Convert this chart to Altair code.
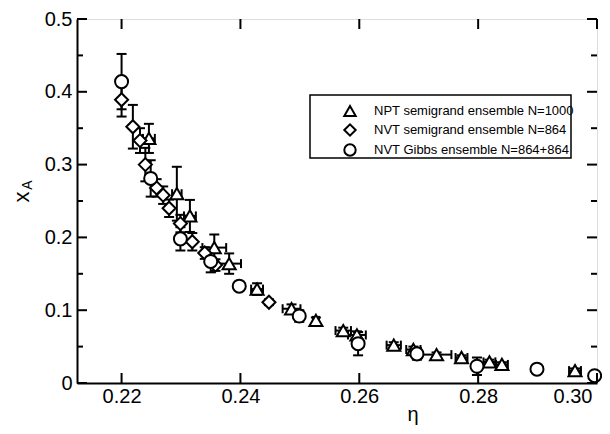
import altair as alt
import pandas as pd

labels = ["NPT semigrand ensemble N=1000", "NVT semigrand ensemble N=864", "NVT Gibbs ensemble N=864+864"]
shapes = ["triangle-up", "diamond", "circle"]

# NPT semigrand ensemble (triangles): eta, x_A, error in x_A, error in eta
npt_eta = [0.2246, 0.2293, 0.2315, 0.2356, 0.2381, 0.2428, 0.2486, 0.2527, 0.2573, 0.2596,
           0.2658, 0.2691, 0.2730, 0.2772, 0.2819, 0.2840, 0.2963]
npt_x = [0.336, 0.260, 0.2295, 0.186, 0.164, 0.129, 0.102, 0.086, 0.072, 0.066,
         0.052, 0.046, 0.039, 0.035, 0.029, 0.0255, 0.017]
npt_err = [0.020, 0.037, 0.022, 0.018, 0.014, 0.008, 0.006, 0.004, 0.004, 0.005,
           0.004, 0.004, 0.003, 0.003, 0.003, 0.003, 0.003]
npt_eta_err = [0.001, 0.0008, 0.001, 0.002, 0.002, 0.001, 0.0015, 0.0005, 0.0013, 0.0015,
               0.0012, 0.0012, 0.0025, 0.001, 0.001, 0.001, 0.001]

# NVT semigrand ensemble (diamonds)
nvt_eta = [0.2200, 0.2219, 0.2231, 0.2240, 0.2259, 0.2270, 0.2280, 0.2299, 0.2319, 0.2340, 0.2358, 0.2448]
nvt_x = [0.389, 0.352, 0.333, 0.300, 0.268, 0.258, 0.240, 0.219, 0.194, 0.1785, 0.162, 0.111]
nvt_err = [0.023, 0.030, 0.017, 0.023, 0.012, 0.012, 0.012, 0.012, 0.012, 0.008, 0.008, 0.004]

# NVT Gibbs ensemble (circles)
gibbs_eta = [0.2200, 0.2249, 0.2299, 0.2350, 0.2398, 0.2499, 0.2598, 0.2697, 0.2798, 0.2899, 0.2996]
gibbs_x = [0.414, 0.281, 0.198, 0.167, 0.133, 0.092, 0.054, 0.040, 0.023, 0.019, 0.010]
gibbs_err = [0.038, 0.025, 0.016, 0.015, 0.005, 0.008, 0.016, 0.008, 0.012, 0.004, 0.004]

x_ticks = [0.22, 0.24, 0.26, 0.28, 0.30]
y_major = [0.0, 0.1, 0.2, 0.3, 0.4, 0.5]
y_minor = [0.05, 0.15, 0.25, 0.35, 0.45]

rows = []
for e, v, er, he in zip(npt_eta, npt_x, npt_err, npt_eta_err):
    rows.append(dict(series=labels[0], eta=e, x=v, ylo=v - er, yhi=v + er, xlo=e - he, xhi=e + he))
for e, v, er in zip(nvt_eta, nvt_x, nvt_err):
    rows.append(dict(series=labels[1], eta=e, x=v, ylo=v - er, yhi=v + er, xlo=e, xhi=e))
for e, v, er in zip(gibbs_eta, gibbs_x, gibbs_err):
    rows.append(dict(series=labels[2], eta=e, x=v, ylo=v - er, yhi=v + er, xlo=e, xhi=e))
df = pd.DataFrame(rows)
dfh = df[df.xhi > df.xlo]

W, H = 520, 364
FONT = "Liberation Sans"
xs = alt.Scale(domain=[0.2125, 0.30], nice=False, zero=False)
ys = alt.Scale(domain=[0, 0.5], nice=False, zero=False)
xaxis = alt.Axis(values=x_ticks, format=".2f", title=None, ticks=False, grid=False,
                 labelFontSize=20, labelFont=FONT, labelColor="black", labelPadding=3,
                 domainColor="black", domainWidth=2, labelFlush=True, labelFlushOffset=-5)
yaxis = alt.Axis(values=y_major, title=None, ticks=False, grid=False,
                 labelExpr="datum.value == 0 ? '0' : format(datum.value, '.1f')",
                 labelFontSize=20, labelFont=FONT, labelColor="black", labelPadding=5,
                 domainColor="black", domainWidth=2)

def X(f):
    return alt.X(f, type="quantitative", scale=xs, axis=xaxis)

def Y(f):
    return alt.Y(f, type="quantitative", scale=ys, axis=yaxis)

box = alt.Chart(pd.DataFrame({"b": [1]})).mark_rect(fill="white", stroke="black", strokeWidth=1.5).encode(
    x=alt.value(233), x2=alt.value(494), y=alt.value(76), y2=alt.value(139))

base = alt.Chart(df)
vbar = base.mark_rule(color="black", strokeWidth=2).encode(x=X("eta"), y=Y("ylo"), y2="yhi")
cap_lo = base.mark_tick(color="black", orient="horizontal", size=10, thickness=2, opacity=1).encode(x=X("eta"), y=Y("ylo"))
cap_hi = base.mark_tick(color="black", orient="horizontal", size=10, thickness=2, opacity=1).encode(x=X("eta"), y=Y("yhi"))

hb = alt.Chart(dfh)
hbar = hb.mark_rule(color="black", strokeWidth=2).encode(x=X("xlo"), x2="xhi", y=Y("x"))
hcap_lo = hb.mark_tick(color="black", orient="vertical", size=9, thickness=2, opacity=1).encode(x=X("xlo"), y=Y("x"))
hcap_hi = hb.mark_tick(color="black", orient="vertical", size=9, thickness=2, opacity=1).encode(x=X("xhi"), y=Y("x"))

leg = alt.Legend(title=None, orient="none", legendX=266, legendY=85, padding=0,
                 rowPadding=0, labelOffset=17, labelFontSize=13, labelFont=FONT,
                 labelColor="black", labelLimit=400, symbolSize=130,
                 symbolStrokeWidth=2, symbolFillColor="white",
                 symbolStrokeColor="black", symbolOpacity=1)

pts = base.mark_point(filled=False, fill="white", fillOpacity=1, strokeWidth=2,
                      size=170, opacity=1).encode(
    x=X("eta"), y=Y("x"),
    shape=alt.Shape("series:N", scale=alt.Scale(domain=labels, range=shapes), legend=leg),
    stroke=alt.Stroke("series:N", scale=alt.Scale(domain=labels, range=["black", "black", "black"]), legend=leg),
)

xt = alt.Chart(pd.DataFrame({"v": x_ticks}))
tick_b = xt.mark_rule(color="black", strokeWidth=2).encode(x=X("v"), y=alt.value(H), y2=alt.value(H - 10))
tick_t = xt.mark_rule(color="black", strokeWidth=2).encode(x=X("v"), y=alt.value(0), y2=alt.value(10))
ytM = alt.Chart(pd.DataFrame({"v": y_major}))
ytm = alt.Chart(pd.DataFrame({"v": y_minor}))
tick_lM = ytM.mark_rule(color="black", strokeWidth=2).encode(y=Y("v"), x=alt.value(0), x2=alt.value(10))
tick_rM = ytM.mark_rule(color="black", strokeWidth=2).encode(y=Y("v"), x=alt.value(W), x2=alt.value(W - 10))
tick_lm = ytm.mark_rule(color="black", strokeWidth=2).encode(y=Y("v"), x=alt.value(0), x2=alt.value(6))
tick_rm = ytm.mark_rule(color="black", strokeWidth=2).encode(y=Y("v"), x=alt.value(W), x2=alt.value(W - 6))

t = alt.Chart(pd.DataFrame({"t": ["η"]}))
eta_title = t.mark_text(fontSize=20, font=FONT, color="black").encode(
    text="t:N", x=alt.value(336), y=alt.value(396))
xa = alt.Chart(pd.DataFrame({"t": ["x"]}))
x_title = xa.mark_text(fontSize=22, font=FONT, color="black", angle=270).encode(
    text="t:N", x=alt.value(-55), y=alt.value(178))
sa = alt.Chart(pd.DataFrame({"t": ["A"]}))
a_title = sa.mark_text(fontSize=14, font=FONT, color="black", angle=270).encode(
    text="t:N", x=alt.value(-49), y=alt.value(166))

chart = alt.layer(
    box, vbar, cap_lo, cap_hi, hbar, hcap_lo, hcap_hi, pts,
    tick_b, tick_t, tick_lM, tick_rM, tick_lm, tick_rm,
    eta_title, x_title, a_title,
).properties(
    width=W, height=H,
    autosize=alt.AutoSizeParams(type="none"),
    padding={"left": 69, "top": 11, "right": 5, "bottom": 43},
).configure_view(stroke="black", strokeWidth=2).configure(background="white")

chart.save("out.html", embed_options={"renderer": "svg", "actions": False})
